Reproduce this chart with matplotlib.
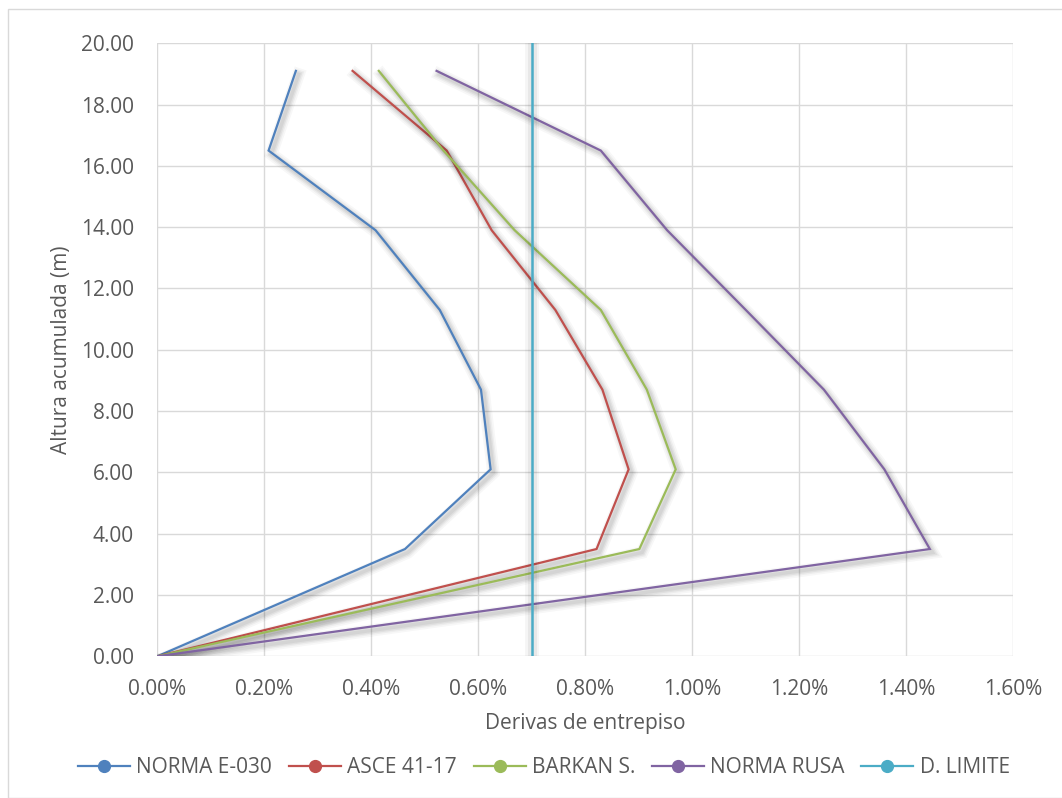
import matplotlib
matplotlib.use("Agg")
import matplotlib.pyplot as plt
import matplotlib.patheffects as pe
from matplotlib.lines import Line2D
from matplotlib.patches import Rectangle
from matplotlib.ticker import FuncFormatter, MultipleLocator

# Accumulated storey height (m)
heights = [0.0, 3.5, 6.1, 8.7, 11.3, 13.9, 16.5, 19.1]

# Inter-storey drift (%) for each criterion
norma_e030 = [0.0, 0.463, 0.623, 0.605, 0.528, 0.408, 0.208, 0.259]
asce_41_17 = [0.0, 0.821, 0.881, 0.832, 0.744, 0.625, 0.541, 0.365]
barkan_s = [0.0, 0.901, 0.969, 0.915, 0.829, 0.668, 0.535, 0.414]
norma_rusa = [0.0, 1.444, 1.359, 1.246, 1.100, 0.953, 0.829, 0.522]

# Drift limit (%)
limite_x = [0.70, 0.70]
limite_y = [0.0, 20.0]

series_names = ["NORMA E-030", "ASCE 41-17", "BARKAN S.", "NORMA RUSA", "D. LIMITE"]
colors = ["#4F81BD", "#C0504D", "#9BBB59", "#8064A2", "#4BACC6"]

FONT = "Open Sans"
TXT = "#595959"
GRID = "#D9D9D9"
FS = 15

plt.rcParams["font.family"] = [FONT, "DejaVu Sans"]

W, H = 1062, 798
fig = plt.figure(figsize=(W / 100, H / 100), dpi=100)
fig.patch.set_facecolor("white")

# Outer chart border
fig.patches.append(Rectangle((8 / W, 0.0), 1.2, 1 - 9 / H, transform=fig.transFigure,
                             fill=False, edgecolor=GRID, linewidth=1.0))

left, right = 157.3 / W, 1013.3 / W
bottom, top = 1 - 656.3 / H, 1 - 43.3 / H
ax = fig.add_axes([left, bottom, right - left, top - bottom])

# Soft drop shadow built from stacked translucent strokes
shadow = [
    pe.SimpleLineShadow(offset=(2.0, -2.5), shadow_color="black", alpha=0.03, linewidth=9),
    pe.SimpleLineShadow(offset=(2.0, -2.5), shadow_color="black", alpha=0.04, linewidth=6.5),
    pe.SimpleLineShadow(offset=(2.0, -2.5), shadow_color="black", alpha=0.05, linewidth=4.5),
    pe.SimpleLineShadow(offset=(2.0, -2.5), shadow_color="black", alpha=0.05, linewidth=2.5),
    pe.Normal(),
]
shadow_v = [
    pe.SimpleLineShadow(offset=(0, 0), shadow_color="black", alpha=0.04, linewidth=10),
    pe.SimpleLineShadow(offset=(0, 0), shadow_color="black", alpha=0.05, linewidth=6.5),
    pe.Normal(),
]

all_x = [norma_e030, asce_41_17, barkan_s, norma_rusa]
for xs, c in zip(all_x, colors[:4]):
    ax.plot(xs, heights, color=c, linewidth=1.6, solid_joinstyle="miter",
            path_effects=shadow, zorder=3)
ax.plot(limite_x, limite_y, color=colors[4], linewidth=1.8, path_effects=shadow_v, zorder=4)

ax.set_xlim(0, 1.6)
ax.set_ylim(0, 20)
ax.xaxis.set_major_locator(MultipleLocator(0.2))
ax.yaxis.set_major_locator(MultipleLocator(2))
ax.xaxis.set_major_formatter(FuncFormatter(lambda v, p: f"{v:.2f}%"))
ax.yaxis.set_major_formatter(FuncFormatter(lambda v, p: f"{v:.2f}"))

for s in ax.spines.values():
    s.set_visible(False)
ax.grid(True, color=GRID, linewidth=1.0, zorder=0)
ax.set_axisbelow(True)
ax.tick_params(axis="both", length=0, labelsize=FS, labelcolor=TXT)
ax.tick_params(axis="x", pad=16)
ax.tick_params(axis="y", pad=17)

ax.set_xlabel("Derivas de entrepiso", fontsize=FS, color=TXT)
ax.xaxis.label.set_va("center")
ax.xaxis.set_label_coords(0.5, (656.3 - 723) / 613.0)
ax.set_ylabel("Altura acumulada (m)", fontsize=FS, color=TXT)
ax.yaxis.label.set_va("center")
ax.yaxis.set_label_coords((62 - 157.3) / 856.0, 0.5)

handles = [Line2D([0], [0], color=c, linewidth=1.6, marker="o", markersize=8.5,
                  markerfacecolor=c, markeredgecolor=c) for c in colors]
fig.legend(handles, series_names, loc="center", ncol=5, frameon=False,
           bbox_to_anchor=(544 / W, 1 - 767.7 / H), bbox_transform=fig.transFigure,
           fontsize=FS, labelcolor=TXT, handlelength=2.5, handletextpad=0.3,
           columnspacing=0.8, borderaxespad=0)

fig.savefig("out.png", dpi=100, facecolor="white")
